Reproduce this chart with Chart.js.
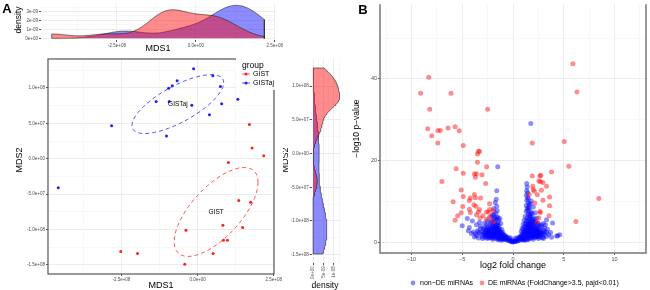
<!DOCTYPE html>
<html>
<head>
<meta charset="utf-8">
<script src="https://cdn.jsdelivr.net/npm/chart.js@4.4.1/dist/chart.umd.min.js"></script>
<style>
  html, body { margin: 0; padding: 0; background: #fff; }
  #wrap { position: relative; width: 650px; height: 290px; overflow: hidden; }
  canvas { position: absolute; }
</style>
</head>
<body>
<div id="wrap">
  <canvas id="topDens" width="290" height="55" style="left:0;top:0"></canvas>
  <canvas id="mds" width="290" height="235" style="left:0;top:55px"></canvas>
  <canvas id="sideDens" width="75" height="235" style="left:283px;top:55px"></canvas>
  <canvas id="volcano" width="305" height="290" style="left:345px;top:0"></canvas>
</div>
<script>
// ---- data: MDS coordinates per group ----
const gistMds1 = [1.70e8, 1.79e8, 2.17e8, 1.01e8, 1.35e8, 1.74e8, 0.83e8, 1.48e8, -0.38e8, 0.85e8, 0.98e8, 0.51e8, -2.52e8, -1.97e8, -0.42e8];
const gistMds2 = [4.83e7, 1.5e7, 0.42e7, -0.52e7, -5.9e7, -6.15e7, -9.4e7, -9.7e7, -10.1e7, -11.5e7, -11.5e7, -13.4e7, -13.1e7, -13.4e7, -14.9e7];
const gistajMds1 = [-0.13e8, 0.5e8, -0.67e8, -0.83e8, -0.95e8, 0.75e8, 1.32e8, -1.36e8, -0.93e8, -0.19e8, 0.79e8, 0.39e8, -2.82e8, -1.02e8, -4.57e8];
const gistajMds2 = [12.7e7, 11.7e7, 11.0e7, 10.3e7, 9.96e7, 10.2e7, 8.4e7, 8.07e7, 8.07e7, 7.56e7, 7.75e7, 6.2e7, 4.65e7, 3.2e7, -4.1e7];
const groups = ['GIST', 'GISTaj'];

// tick values (major / minor)
const mds1Major = [-2.5e8, 0, 2.5e8];
const mds1Minor = [-3.75e8, -1.25e8, 1.25e8];
const mds2Major = [-1.5e8, -1e8, -5e7, 0, 5e7, 1e8];
const mds2Minor = [-1.25e8, -7.5e7, -2.5e7, 2.5e7, 7.5e7, 1.25e8];
const topDensMajor = [0, 1e-9, 2e-9, 3e-9];
const topDensMinor = [0.5e-9, 1.5e-9, 2.5e-9, 3.5e-9];
const sideDensMajor = [0, 5e-9, 1e-8];
const sideDensMinor = [2.5e-9, 7.5e-9, 1.25e-8];

// ---- data: volcano plot (log2 fold change, -log10 p-value) ----
const deMirnas = [
  [-8.3,40.4],[-9.1,36.5],[-6.1,36.5],[-8.2,32.6],[-2.5,32.6],[-8.4,27.8],[-7.4,27.4],[-7.15,27.4],[-8.0,26.1],
  [-6.4,28.0],[-5.7,28.3],[-5.3,27.3],[-7.4,24.3],[-4.9,23.7],[1.9,24.3],[5.05,24.7],[5.9,43.7],[6.3,36.8],
  [-3.4,22.3],[-3.3,22.2],[-3.5,21.6],[-3.5,19.6],[-2.6,18.5],[-5.6,18.0],[-4.9,16.9],[-3.8,16.7],[-3.6,16.8],
  [-3.05,16.5],[-3.7,15.9],[-7.0,14.9],[-2.7,14.4],[-5.1,12.8],[-4.9,11.2],[-3.8,11.7],[-3.7,10.9],[-3.2,10.8],
  [-4.2,10.8],[-4.3,10.2],[-5.9,9.9],[-3.85,9.2],[-3.65,8.8],[-4.95,8.75],[-2.3,9.4],[-4.3,8.1],[-3.3,8.0],
  [-2.3,8.0],[-5.1,7.2],[-4.2,7.3],[-3.4,7.4],[-2.6,7.4],[-2.4,7.4],[-1.95,7.7],[-5.45,6.5],[-3.6,6.7],
  [-3.25,6.0],[-2.95,6.5],[-2.6,5.6],[-1.95,5.0],[-2.3,6.2],[-5.7,5.4],
  [5.5,18.6],[3.8,17.2],[1.9,16.2],[2.65,16.2],[2.75,16.4],[2.55,15.0],[2.7,14.8],[2.95,14.6],[1.95,13.7],
  [3.3,13.7],[2.4,11.6],[2.0,12.9],[2.1,12.5],[2.8,12.7],[3.6,11.1],[2.95,10.3],[1.6,11.7],[2.15,9.6],
  [2.65,7.5],[2.7,7.3],[3.6,8.9],[3.55,6.5],[2.4,4.9],[8.45,10.7],[6.2,5.1],[2.55,5.95]
];
const nonDeMirnas = [
  [0,0.05],[0.1,0.1],[-0.1,0.1],[0.2,0.15],[-0.2,0.2],[0.3,0.25],[-0.3,0.3],[0.4,0.3],[-0.4,0.4],[0.5,0.4],
  [-0.5,0.5],[0.6,0.5],[-0.6,0.6],[0.7,0.6],[-0.7,0.7],[0.8,0.7],[-0.8,0.8],[0.9,0.8],[-0.9,0.9],[1.0,0.9],
  [-1.0,1.0],[0.35,0.8],[-0.35,0.9],[0.55,1.2],[-0.55,1.3],[0.75,1.5],[-0.75,1.6],[0.15,0.5],[-0.15,0.5],
  [0.25,1.0],[-0.25,1.1],
  [-1.1,0.7],[-1.2,0.9],[-1.3,1.1],[-1.4,0.8],[-1.5,1.0],[-1.6,1.3],[-1.7,0.9],[-1.8,1.2],[-1.9,1.5],[-2.0,1.0],
  [-2.1,1.4],[-2.2,1.1],[-2.3,1.6],[-2.4,1.2],[-2.5,1.9],[-2.6,1.4],[-2.7,1.1],[-2.8,1.7],[-2.9,2.3],[-3.0,1.3],
  [-0.9,1.8],[-1.0,2.4],[-1.1,1.9],[-1.1,3.1],[-1.2,2.5],[-1.3,2.0],[-1.3,3.3],[-1.4,2.7],[-1.4,4.1],[-1.5,2.2],
  [-1.5,3.5],[-1.6,2.8],[-1.6,4.4],[-1.7,2.0],[-1.7,3.6],[-1.8,2.6],[-1.8,4.8],[-1.9,3.1],[-2.0,2.2],[-2.0,3.9],
  [-2.1,2.8],[-2.1,5.2],[-2.2,3.3],[-2.3,2.4],[-2.3,4.1],[-2.4,3.0],[-2.5,2.6],[-2.5,3.8],[-2.6,3.2],[-2.7,2.4],
  [-2.8,3.6],[-3.0,2.8],[-3.1,1.9],[-3.2,3.3],[-3.4,2.5],[-3.6,1.6],[-3.8,1.3],[-3.9,2.5],[-4.3,3.6],[-4.4,2.8],
  [-5.0,4.0],[-3.3,4.9],[-3.2,3.9],[-3.6,4.3],[-4.0,5.2],[-4.5,5.8],
  [-1.4,5.4],[-1.5,6.2],[-1.55,7.7],[-1.6,8.8],[-1.65,10.5],[-1.75,9.7],[-1.7,7.1],[-1.8,6.0],[-1.9,5.5],
  [-2.0,6.6],[-2.15,6.3],[-1.3,5.8],[-1.2,4.6],[-1.5,18.5],[-2.5,5.2],[-2.8,4.7],[-1.9,8.2],[-1.6,12.6],
  [-0.6,1.0],[-0.7,1.2],[-0.8,1.4],[-0.9,1.3],[-1.0,1.6],[-1.1,1.3],[-1.2,1.7],[-1.3,1.5],[-1.4,1.9],[-1.5,1.6],
  [-1.6,1.8],[-1.7,1.6],[-1.8,1.9],[-1.9,2.1],[-2.0,1.6],[-2.1,1.9],[-2.2,2.0],[-2.3,1.3],[-2.4,2.2],[-2.6,2.0],
  [-2.7,1.6],[-2.8,2.2],[-1.05,2.0],[-1.25,2.3],[-1.45,2.4],[-1.65,2.5],[-1.85,2.8],[-2.05,2.6],[-2.25,2.8],
  [-2.45,2.5],[-2.65,2.9],[-1.35,2.8],[-1.55,3.0],[-1.75,3.2],[-1.95,3.5],[-2.15,3.6],[-2.35,3.2],[-1.45,3.3],
  [-1.65,3.6],[-1.85,3.9],[-2.05,4.4],[-1.55,4.0],[-1.75,4.2],[-1.5,4.8],[-1.7,5.6],[-1.6,6.0],[-1.9,6.8],
  [-2.2,4.8],[-2.6,4.3],[-2.9,3.3],[-3.3,2.2],[-3.5,2.8],[-3.0,0.9],[-2.5,0.9],[-2.0,0.7],[-1.5,0.6],[-1.2,0.5],
  [-0.95,0.6],[-3.4,1.0],[-3.7,2.0],[-4.1,2.1],
  [1.1,0.6],[1.2,0.8],[1.3,1.0],[1.4,0.7],[1.5,1.1],[1.6,0.9],[1.7,1.3],[1.8,1.0],[1.9,1.4],[2.0,1.1],
  [2.1,1.6],[2.2,1.2],[2.3,1.8],[2.4,1.3],[2.5,2.0],[2.6,1.5],[2.7,1.2],[2.8,1.9],[2.9,1.1],[3.0,1.6],
  [3.1,2.2],[3.3,1.4],[3.5,1.9],[3.8,1.2],[4.4,1.6],[4.6,1.8],[4.3,1.5],
  [0.9,1.9],[1.0,2.5],[1.0,3.2],[1.1,2.0],[1.1,3.8],[1.2,2.7],[1.2,4.5],[1.3,2.2],[1.3,3.4],[1.3,5.2],
  [1.4,2.9],[1.4,4.0],[1.4,6.0],[1.5,2.4],[1.5,3.6],[1.5,4.8],[1.5,7.0],[1.6,2.1],[1.6,3.1],[1.6,4.3],
  [1.6,5.6],[1.6,8.2],[1.7,2.6],[1.7,3.9],[1.7,5.0],[1.7,6.4],[1.7,9.4],[1.8,2.2],[1.8,3.4],[1.8,4.6],
  [1.8,7.4],[1.9,2.8],[1.9,4.1],[1.9,6.0],[2.0,2.0],[2.0,3.3],[2.0,4.9],[2.0,8.6],[2.1,2.6],[2.1,3.9],
  [2.1,5.6],[2.2,2.2],[2.2,3.0],[2.2,4.6],[2.3,2.6],[2.3,3.6],[2.4,2.1],[2.4,3.1],[2.4,4.3],[2.5,2.7],
  [2.5,3.5],[2.6,2.3],[2.6,4.0],[2.7,3.0],[2.8,2.5],[2.8,3.8],[2.9,2.0],[3.0,3.0],[3.1,2.5],[3.2,4.3],
  [3.4,3.2],[3.7,2.4],[3.0,4.6],[3.9,4.7],[3.3,5.5],
  [1.2,6.3],[1.3,7.6],[1.3,9.0],[1.35,10.3],[1.3,11.5],[1.35,12.6],[1.4,13.5],[1.35,14.4],[1.45,11.0],
  [1.5,9.6],[1.55,8.5],[1.45,7.8],[1.1,5.4],[1.0,4.4],[0.9,3.4],[0.8,2.6],[1.75,29.1],[1.9,6.9],[2.2,7.2],
  [1.8,10.1],[2.3,5.9],
  [0.6,1.0],[0.7,1.2],[0.8,1.4],[0.9,1.2],[1.0,1.5],[1.1,1.3],[1.2,1.7],[1.3,1.5],[1.4,1.8],[1.5,1.6],
  [1.6,1.9],[1.7,1.7],[1.8,1.6],[1.9,2.0],[2.0,1.5],[2.1,2.1],[2.2,1.8],[2.3,1.4],[2.4,1.7],[2.5,1.4],
  [2.6,1.9],[2.7,2.1],[1.05,2.2],[1.25,2.4],[1.45,2.5],[1.65,2.6],[1.85,2.9],[2.05,2.7],[2.25,2.9],[2.45,2.4],
  [2.65,2.7],[1.15,2.8],[1.35,3.0],[1.55,3.3],[1.75,3.3],[1.95,3.6],[2.15,3.4],[2.35,3.1],[1.25,3.6],[1.45,3.8],
  [1.65,3.7],[1.85,4.0],[2.05,4.2],[1.35,4.4],[1.55,4.5],[1.75,4.7],[1.95,5.2],[1.45,5.3],[1.65,6.1],[1.85,5.6],
  [1.55,6.7],[1.75,7.1],[1.4,8.3],[1.6,9.2],[1.5,10.6],[1.45,12.1],[2.2,5.1],[2.5,4.6],[2.8,4.2],[3.1,3.5],
  [3.3,2.5],[3.0,0.9],[2.5,0.9],[2.0,0.7],[1.5,0.6],[1.2,0.5],[0.95,0.55]
];
const volcanoXMajor = [-10, -5, 0, 5, 10];
const volcanoXMinor = [-12.5, -7.5, -2.5, 2.5, 7.5, 12.5];
const volcanoYMajor = [0, 20, 40];
const volcanoYMinor = [10, 30, 50];
const volcanoLegend = ['non\u2212DE miRNAs', 'DE miRNAs (FoldChange>3.5, pajd<0.01)'];

// ---- colours & helpers ----
const RED = '#ff2020', BLUE = '#2020ff';
const RED_FILL = 'rgba(255,0,0,0.45)', BLUE_FILL = 'rgba(0,0,255,0.45)';
const FONT = "'Liberation Sans', Arial, sans-serif";
Chart.defaults.font.family = FONT;
Chart.defaults.animation = false;

function sci(v, digits) {
  if (Math.abs(v) < 1e-30) return digits ? '0.0e+00' : '0e+00';
  return v.toExponential(digits).replace(/e([+-])(\d)$/, 'e$10$2');
}
function minus(v) { return v < 0 ? '\u2212' + Math.abs(v) : String(v); }

function range(arr) { return [Math.min(...arr), Math.max(...arr)]; }
function expand(r, f) { const d = (r[1] - r[0]) * f; return [r[0] - d, r[1] + d]; }

function linAxis(o) {
  const all = o.major.concat(o.minor).sort((a, b) => a - b);
  const eps = Math.abs(o.max - o.min) * 1e-6;
  const isMajor = v => o.major.some(m => Math.abs(m - v) <= eps);
  return {
    type: 'linear', min: o.min, max: o.max, position: o.position,
    afterBuildTicks: s => { s.ticks = all.filter(v => v >= o.min && v <= o.max).map(v => ({ value: v })); },
    afterFit: s => { if (o.w != null) s.width = o.w; if (o.h != null) s.height = o.h; },
    grid: {
      color: c => isMajor(c.tick.value) ? '#ebebeb' : '#f4f4f4',
      lineWidth: c => isMajor(c.tick.value) ? 0.9 : 0.6,
      tickLength: 2,
      tickColor: c => isMajor(c.tick.value) ? '#444' : 'rgba(0,0,0,0)'
    },
    border: { display: false },
    ticks: {
      font: { size: o.size }, color: '#4d4d4d', padding: 1, autoSkip: false,
      maxRotation: o.rot || 0, minRotation: o.rot || 0,
      callback: v => isMajor(v) ? o.fmt(v) : ''
    }
  };
}

function txt(ctx, s, x, y, size, opt = {}) {
  ctx.save();
  ctx.font = (opt.bold ? 'bold ' : '') + size + 'px ' + FONT;
  ctx.fillStyle = opt.color || '#000';
  ctx.textAlign = opt.align || 'center';
  ctx.textBaseline = 'middle';
  ctx.translate(x, y);
  if (opt.rot) ctx.rotate(opt.rot);
  ctx.fillText(s, 0, 0);
  ctx.restore();
}
function overlay(id, fn) { return { id: id, afterDraw: chart => fn(chart.ctx, chart) }; }

const mean = a => a.reduce((s, v) => s + v, 0) / a.length;

// gaussian kernel density, bandwidth like R's bw.nrd0
function kde(vals, from, to, n) {
  const N = vals.length, m = mean(vals);
  const sd = Math.sqrt(vals.reduce((a, b) => a + (b - m) ** 2, 0) / (N - 1));
  const s = vals.slice().sort((a, b) => a - b);
  const q = p => { const h = (N - 1) * p, i = Math.floor(h); return s[i] + (h - i) * ((s[i + 1] ?? s[i]) - s[i]); };
  const bw = 0.9 * Math.min(sd, (q(0.75) - q(0.25)) / 1.34) * Math.pow(N, -0.2);
  const out = [];
  for (let k = 0; k < n; k++) {
    const x = from + (to - from) * k / (n - 1);
    let d = 0;
    vals.forEach(v => { const u = (x - v) / bw; d += Math.exp(-0.5 * u * u); });
    out.push([x, d / (N * bw * Math.sqrt(2 * Math.PI))]);
  }
  return out;
}

// one-standard-deviation covariance ellipse around the group mean
function sdEllipse(xs, ys) {
  const n = xs.length, mx = mean(xs), my = mean(ys);
  let a = 0, b = 0, c = 0;
  xs.forEach((x, i) => { const dx = x - mx, dy = ys[i] - my; a += dx * dx; b += dx * dy; c += dy * dy; });
  a /= n - 1; b /= n - 1; c /= n - 1;
  const r11 = Math.sqrt(a), r12 = b / r11, r22 = Math.sqrt(c - r12 * r12);
  const pts = [];
  for (let k = 0; k <= 60; k++) {
    const t = k * 2 * Math.PI / 60, ct = Math.cos(t), st = Math.sin(t);
    pts.push({ x: mx + ct * r11, y: my + ct * r12 + st * r22 });
  }
  return pts;
}

const toPts = (xs, ys) => xs.map((x, i) => ({ x: x, y: ys[i] }));

// ---- ranges ----
const allMds1 = gistMds1.concat(gistajMds1), allMds2 = gistMds2.concat(gistajMds2);
const r1 = range(allMds1), r2 = range(allMds2);
const lim1 = expand(r1, 0.05), lim2 = expand(r2, 0.05);

// ---- top density (MDS1) ----
const dTopGistaj = kde(gistajMds1, r1[0], r1[1], 200);
const dTopGist = kde(gistMds1, r1[0], r1[1], 200);
const topPeak = Math.max(...dTopGistaj.map(p => p[1]), ...dTopGist.map(p => p[1]));
const closed = (d, horiz) => {
  const pts = d.map(p => horiz ? { x: p[1], y: p[0] } : { x: p[0], y: p[1] });
  const a = d[0][0], b = d[d.length - 1][0];
  return horiz ? [{ x: 0, y: a }].concat(pts, [{ x: 0, y: b }]) : [{ x: a, y: 0 }].concat(pts, [{ x: b, y: 0 }]);
};
const densStyle = (fill) => ({ backgroundColor: fill, borderColor: '#222', borderWidth: 0.6, pointRadius: 0, fill: 'origin', tension: 0 });

new Chart(document.getElementById('topDens'), {
  type: 'line',
  data: { datasets: [
    Object.assign({ data: closed(dTopGistaj, false) }, densStyle(RED_FILL)),
    Object.assign({ data: closed(dTopGist, false) }, densStyle(BLUE_FILL))
  ] },
  options: {
    responsive: false,
    layout: { padding: { left: 0, right: 15, top: 1, bottom: 0 } },
    plugins: { legend: { display: false }, tooltip: { enabled: false } },
    scales: {
      x: linAxis({ min: lim1[0], max: lim1[1], major: mds1Major, minor: mds1Minor, fmt: v => sci(v, 1), size: 4.5, h: 15 }),
      y: linAxis({ min: -0.05 * topPeak, max: 1.05 * topPeak, major: topDensMajor, minor: topDensMinor, fmt: v => sci(v, 0), size: 4.5, w: 41 })
    }
  },
  plugins: [overlay('topText', (ctx, ch) => {
    txt(ctx, 'A', 7, 9, 13, { bold: true });
    txt(ctx, 'density', 19, 20, 8.5, { rot: -Math.PI / 2 });
    txt(ctx, 'MDS1', (ch.chartArea.left + ch.chartArea.right) / 2, 49, 9);
  })]
});

// ---- MDS scatter with ellipses ----
new Chart(document.getElementById('mds'), {
  type: 'scatter',
  data: { datasets: [
    { data: toPts(gistMds1, gistMds2), backgroundColor: RED, borderWidth: 0, pointRadius: 1.5 },
    { data: toPts(gistajMds1, gistajMds2), backgroundColor: BLUE, borderWidth: 0, pointRadius: 1.5 },
    { data: sdEllipse(gistMds1, gistMds2), showLine: true, borderColor: '#ff5555', borderWidth: 1, borderDash: [4, 3], pointRadius: 0 },
    { data: sdEllipse(gistajMds1, gistajMds2), showLine: true, borderColor: '#5555ff', borderWidth: 1, borderDash: [4, 3], pointRadius: 0 }
  ] },
  options: {
    responsive: false,
    layout: { padding: { left: 0, right: 16, top: 4, bottom: 0 } },
    plugins: { legend: { display: false }, tooltip: { enabled: false } },
    scales: {
      x: linAxis({ min: lim1[0], max: lim1[1], major: mds1Major, minor: mds1Minor, fmt: v => sci(v, 1), size: 4.5, h: 16 }),
      y: linAxis({ min: lim2[0], max: lim2[1], major: mds2Major, minor: mds2Minor, fmt: v => sci(v, 1), size: 4.5, w: 48 })
    }
  },
  plugins: [overlay('mdsText', (ctx, ch) => {
    const a = ch.chartArea, sx = ch.scales.x, sy = ch.scales.y;
    ctx.save();
    ctx.strokeStyle = '#555'; ctx.lineWidth = 1.2;
    ctx.strokeRect(a.left, a.top, a.right - a.left, a.bottom - a.top);
    ctx.restore();
    txt(ctx, 'GIST', sx.getPixelForValue(mean(gistMds1)), sy.getPixelForValue(mean(gistMds2)), 6.5);
    txt(ctx, 'GISTaj', sx.getPixelForValue(mean(gistajMds1)), sy.getPixelForValue(mean(gistajMds2)), 6.5);
    txt(ctx, 'MDS2', 20, 105, 9, { rot: -Math.PI / 2 });
    txt(ctx, 'MDS1', (a.left + a.right) / 2, 231, 9);
    // legend
    ctx.save();
    ctx.fillStyle = '#fff';
    ctx.fillRect(236, 3, 50, 32);
    [[RED, '#ff5555'], [BLUE, '#5555ff']].forEach((c, i) => {
      const y = 19 + i * 9;
      ctx.strokeStyle = c[1]; ctx.lineWidth = 1;
      ctx.beginPath(); ctx.moveTo(242, y); ctx.lineTo(250, y); ctx.stroke();
      ctx.fillStyle = c[0];
      ctx.beginPath(); ctx.arc(246, y, 1.5, 0, 2 * Math.PI); ctx.fill();
    });
    ctx.restore();
    txt(ctx, 'group', 242, 11, 8.5, { align: 'left' });
    txt(ctx, groups[0], 253, 19, 7, { align: 'left' });
    txt(ctx, groups[1], 253, 28, 7, { align: 'left' });
  })]
});

// ---- side density (MDS2), drawn horizontally ----
const dSideGistaj = kde(gistajMds2, r2[0], r2[1], 200);
const dSideGist = kde(gistMds2, r2[0], r2[1], 200);
const sidePeak = Math.max(...dSideGistaj.map(p => p[1]), ...dSideGist.map(p => p[1]));

new Chart(document.getElementById('sideDens'), {
  type: 'line',
  data: { datasets: [
    Object.assign({ data: closed(dSideGistaj, true) }, densStyle(RED_FILL)),
    Object.assign({ data: closed(dSideGist, true) }, densStyle(BLUE_FILL))
  ] },
  options: {
    responsive: false, indexAxis: 'y',
    layout: { padding: { left: 0, right: 17, top: 3.7, bottom: 0 } },
    plugins: { legend: { display: false }, tooltip: { enabled: false } },
    scales: {
      x: linAxis({ min: -0.05 * sidePeak, max: 1.05 * sidePeak, major: sideDensMajor, minor: sideDensMinor, fmt: v => sci(v, 0), size: 4.5, h: 26.7, rot: 90 }),
      y: linAxis({ min: lim2[0], max: lim2[1], major: mds2Major, minor: mds2Minor, fmt: v => sci(v, 1), size: 4.5, w: 28.7 })
    }
  },
  plugins: [overlay('sideText', (ctx, ch) => {
    txt(ctx, 'MDS2', 3, 105, 9, { rot: -Math.PI / 2 });
    txt(ctx, 'density', 42, 231, 8.5);
  })]
});

// ---- volcano plot ----
new Chart(document.getElementById('volcano'), {
  type: 'scatter',
  data: { datasets: [
    { data: deMirnas.map(p => ({ x: p[0], y: p[1] })), backgroundColor: 'rgba(255,0,0,0.45)', borderWidth: 0, pointRadius: 2.5 },
    { data: nonDeMirnas.map(p => ({ x: p[0], y: p[1] })), backgroundColor: 'rgba(0,0,255,0.45)', borderWidth: 0, pointRadius: 2.5 }
  ] },
  options: {
    responsive: false,
    layout: { padding: { left: 0, right: 2, top: 0, bottom: 0 } },
    plugins: { legend: { display: false }, tooltip: { enabled: false } },
    scales: {
      x: linAxis({ min: -13.1, max: 13.1, major: volcanoXMajor, minor: volcanoXMinor, fmt: minus, size: 5.5, h: 37 }),
      y: linAxis({ min: -2.65, max: 58.3, major: volcanoYMajor, minor: volcanoYMinor, fmt: minus, size: 5.5, w: 35 })
    }
  },
  plugins: [overlay('volText', (ctx, ch) => {
    const a = ch.chartArea;
    ctx.save();
    ctx.strokeStyle = '#777'; ctx.lineWidth = 1.5;
    ctx.beginPath();
    ctx.moveTo(a.left, a.top); ctx.lineTo(a.left, a.bottom); ctx.lineTo(a.right, a.bottom); ctx.lineTo(a.right, a.top);
    ctx.stroke();
    ctx.restore();
    txt(ctx, 'B', 18, 10, 13, { bold: true });
    txt(ctx, '\u2212log10 p\u2212value', 12, (a.top + a.bottom) / 2, 8.5, { rot: -Math.PI / 2 });
    txt(ctx, 'log2 fold change', ch.scales.x.getPixelForValue(0), 266, 9);
    // legend
    ctx.save();
    ctx.fillStyle = 'rgba(0,0,255,0.45)';
    ctx.beginPath(); ctx.arc(68, 283, 2.4, 0, 2 * Math.PI); ctx.fill();
    ctx.fillStyle = 'rgba(255,0,0,0.45)';
    ctx.beginPath(); ctx.arc(137, 283, 2.4, 0, 2 * Math.PI); ctx.fill();
    ctx.restore();
    txt(ctx, volcanoLegend[0], 75, 283, 7, { align: 'left' });
    txt(ctx, volcanoLegend[1], 143, 283, 7, { align: 'left' });
  })]
});
</script>
</body>
</html>
